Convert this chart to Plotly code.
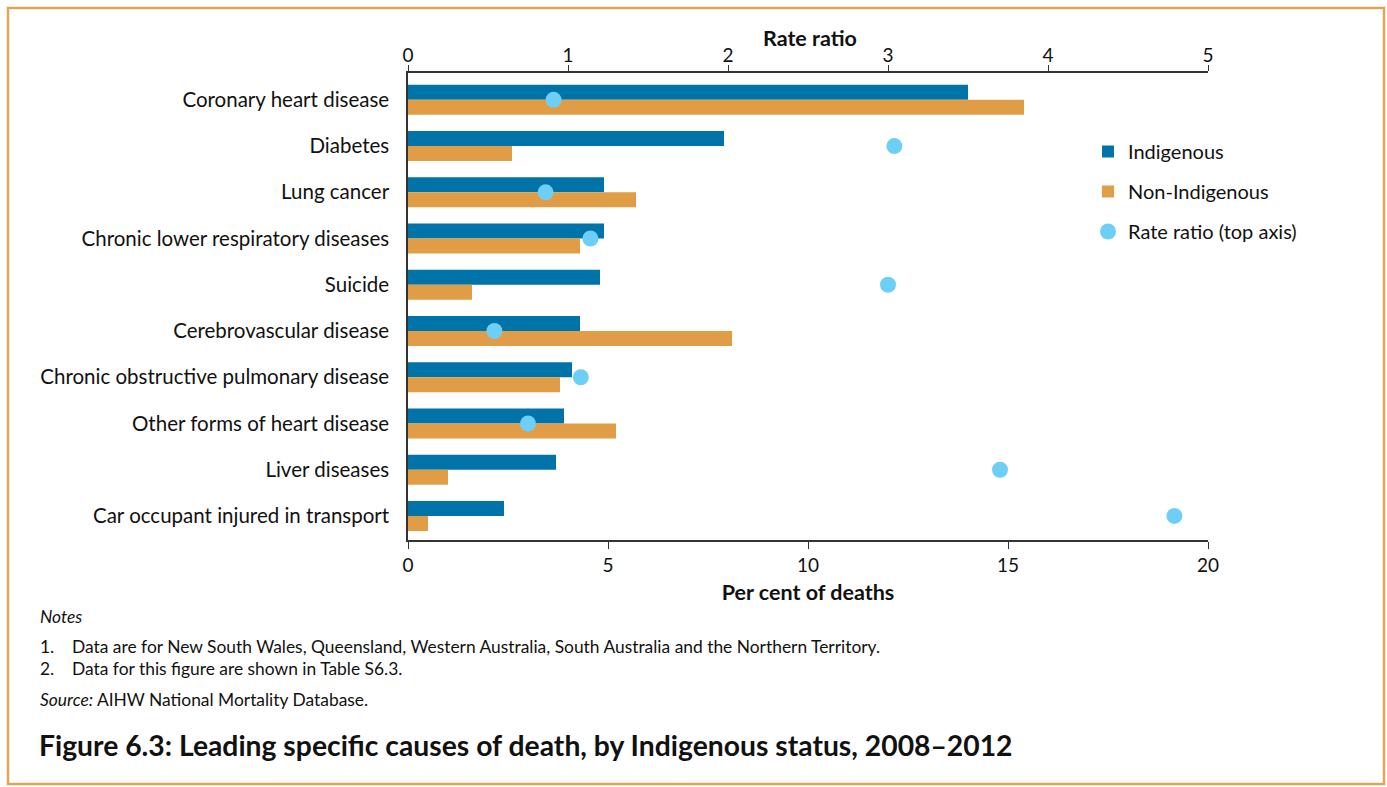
import plotly.graph_objects as go

categories = [
    "Coronary heart disease",
    "Diabetes",
    "Lung cancer",
    "Chronic lower respiratory diseases",
    "Suicide",
    "Cerebrovascular disease",
    "Chronic obstructive pulmonary disease",
    "Other forms of heart disease",
    "Liver diseases",
    "Car occupant injured in transport",
]
indigenous = [14.0, 7.9, 4.9, 4.9, 4.8, 4.3, 4.1, 3.9, 3.7, 2.4]
non_indigenous = [15.4, 2.6, 5.7, 4.3, 1.6, 8.1, 3.8, 5.2, 1.0, 0.5]
rate_ratio = [0.91, 3.04, 0.86, 1.14, 3.0, 0.54, 1.08, 0.75, 3.7, 4.79]

bottom_ticks = [0, 5, 10, 15, 20]
top_ticks = [0, 1, 2, 3, 4, 5]

FONT = "Lato"
TXT = "#111111"
C_IND = "#0073A8"
C_NON = "#E09D45"
C_RR = "#6DCFF6"
BORDER = "#E3A456"

fig = go.Figure()
fig.add_trace(go.Bar(
    y=categories, x=indigenous, orientation="h", name="Indigenous",
    marker=dict(color=C_IND, line=dict(width=0)), legendgroup="a",
))
fig.add_trace(go.Bar(
    y=categories, x=non_indigenous, orientation="h", name="Non-Indigenous",
    marker=dict(color=C_NON, line=dict(width=0)), legendgroup="b",
))
fig.add_trace(go.Scatter(
    y=categories, x=rate_ratio, xaxis="x2", mode="markers",
    name="Rate ratio (top axis)",
    marker=dict(color=C_RR, size=16, symbol="circle"), legendgroup="c",
))

W, H = 1387, 787
L, R, T, B = 408, 179, 73, 247
pw, ph = W - L - R, H - T - B


def px(x):
    return (x - L) / pw


def py(y):
    return (H - B - y) / ph


fig.update_layout(
    width=W, height=H,
    margin=dict(l=L, r=R, t=T, b=B),
    paper_bgcolor="white", plot_bgcolor="white",
    barmode="group", bargap=0.35, bargroupgap=0,
    font=dict(family=FONT, size=19, color=TXT),
    showlegend=True,
    legend=dict(
        x=px(1088), y=py(132), xanchor="left", yanchor="top",
        font=dict(size=20, family=FONT, color=TXT), tracegroupgap=11,
        bgcolor="rgba(0,0,0,0)",
    ),
    xaxis=dict(
        range=[0, 20], tickvals=bottom_ticks, showgrid=False, zeroline=False,
        showline=True, linecolor="#333333", linewidth=1.5,
        ticks="outside", ticklen=7, tickcolor="#333333",
        tickfont=dict(size=19), side="bottom",
        title=dict(text="<b>Per cent of deaths</b>", font=dict(size=21.5), standoff=10),
    ),
    xaxis2=dict(
        range=[0, 5], tickvals=top_ticks, overlaying="x", side="top",
        showgrid=False, zeroline=False, showline=True, linecolor="#333333",
        linewidth=1.5, ticks="outside", ticklen=6, tickcolor="#333333",
        tickfont=dict(size=19), ticklabelstandoff=-4,
    ),
    yaxis=dict(
        range=[9.52, -0.58], showgrid=False, zeroline=False,
        showline=True, linecolor="#333333", linewidth=1.5,
        ticks="", ticklabelstandoff=13, tickfont=dict(size=20.5),
    ),
)

# top axis title
fig.add_annotation(text="<b>Rate ratio</b>", xref="paper", yref="paper",
                   x=px(810), y=py(38), xanchor="center", yanchor="middle",
                   showarrow=False, font=dict(size=21.5, family=FONT, color=TXT))

# border
fig.add_shape(type="rect", xref="paper", yref="paper",
              x0=px(8), x1=px(1384), y0=py(784), y1=py(8),
              line=dict(color=BORDER, width=2.5), fillcolor="rgba(0,0,0,0)", layer="below")

notes = [
    ("<i>Notes</i>", 616),
    ("1.    Data are for New South Wales, Queensland, Western Australia, South Australia and the Northern Territory.", 646),
    ("2.    Data for this figure are shown in Table S6.3.", 669),
    ("<i>Source:</i> AIHW National Mortality Database.", 699),
]
for txt, yy in notes:
    fig.add_annotation(text=txt, xref="paper", yref="paper", x=px(38), y=py(yy),
                       xanchor="left", yanchor="middle", showarrow=False,
                       font=dict(size=17.4, family=FONT, color=TXT))

fig.add_annotation(text="<b>Figure 6.3: Leading specific causes of death, by Indigenous status, 2008–2012</b>",
                   xref="paper", yref="paper", x=px(37), y=py(745),
                   xanchor="left", yanchor="middle", showarrow=False,
                   font=dict(size=28.3, family=FONT, color=TXT))

fig.write_html(
    "out.html",
    config={"displayModeBar": False},
    post_script="document.body.style.margin='0';document.body.style.overflow='hidden';",
)
